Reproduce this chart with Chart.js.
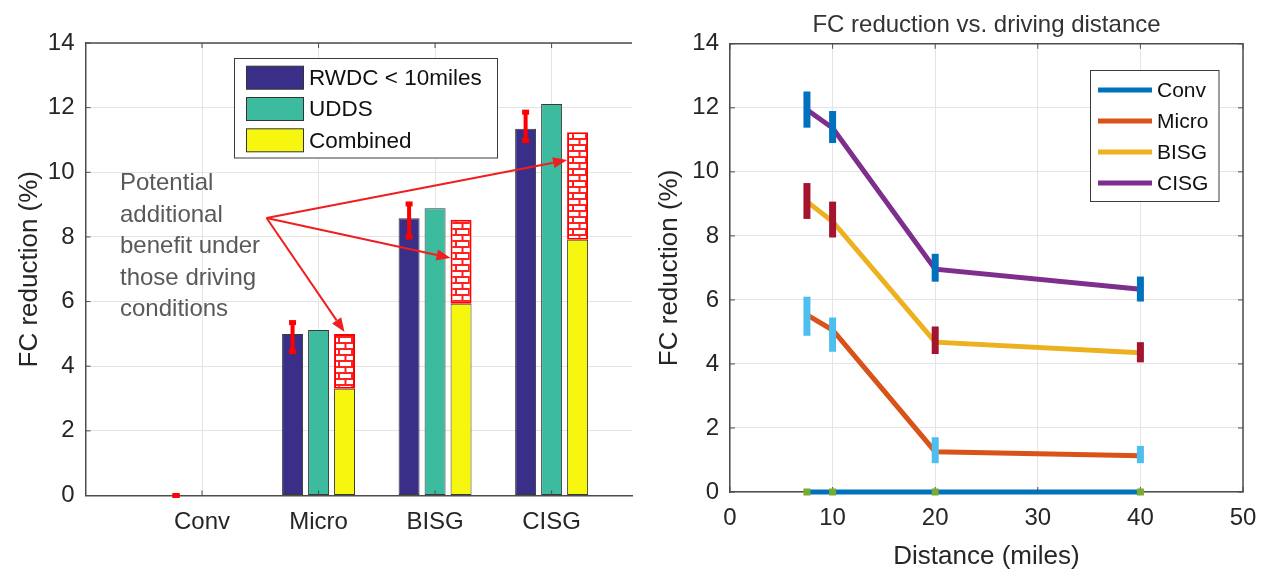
<!DOCTYPE html>
<html>
<head>
<meta charset="utf-8">
<script src="https://cdn.jsdelivr.net/npm/chart.js@4.4.1/dist/chart.umd.min.js"></script>
<style>
    html, body { margin: 0; padding: 0; background: #fff; }
    #wrap { position: relative; width: 1269px; height: 572px; }
    .panel { position: absolute; top: 0; height: 572px; }
    #left { left: 0; width: 640px; }
    #right { left: 640px; width: 629px; }
</style>
</head>
<body>
<div id="wrap">
    <div class="panel" id="left"><canvas id="barChart" width="640" height="572"></canvas></div>
    <div class="panel" id="right"><canvas id="lineChart" width="629" height="572"></canvas></div>
</div>
<script>
const FONT = '"Liberation Sans", Arial, sans-serif';
const TEXT = '#262626';
const GRID = '#e4e4e4';
const AXIS = '#4d4d4d';

// ---- left panel: FC reduction per powertrain ----
const categories = ['Conv', 'Micro', 'BISG', 'CISG'];
const barLabels = ['RWDC < 10miles', 'UDDS', 'Combined'];
const rwdc = [0, 5.0, 8.58, 11.35];
const rwdcLow = [0, 4.45, 8.0, 10.98];
const rwdcHigh = [0, 5.35, 9.02, 11.86];
const udds = [0, 5.12, 8.89, 12.11];
const combined = [0, 3.3, 5.93, 7.91];
const potential = [null, 5.0, 8.53, 11.24];
const noteLines = ['Potential', 'additional', 'benefit under', 'those driving', 'conditions'];

// ---- right panel: FC reduction vs distance ----
const distances = [7.5, 10, 20, 40];
const seriesNames = ['Conv', 'Micro', 'BISG', 'CISG'];
const convFC = [0, 0, 0, 0];
const convLow = [0, 0, 0, 0];
const convHigh = [0, 0, 0, 0];
const microFC = [5.53, 5.06, 1.26, 1.13];
const microLow = [4.88, 4.38, 0.9, 0.9];
const microHigh = [6.1, 5.45, 1.71, 1.44];
const bisgFC = [9.07, 8.45, 4.68, 4.35];
const bisgLow = [8.53, 7.95, 4.31, 4.05];
const bisgHigh = [9.65, 9.07, 5.17, 4.68];
const cisgFC = [11.94, 11.37, 6.96, 6.33];
const cisgLow = [11.38, 10.9, 6.57, 5.95];
const cisgHigh = [12.51, 11.9, 7.44, 6.73];

const barColors = ['#3a2f88', '#3dbb9e', '#f6f60f'];
const lineColors = ['#0072BD', '#D95319', '#EDB120', '#7E2F8E'];
const errColors = ['#77AC30', '#4DBEEE', '#A2142F', '#0072BD'];

function brickPattern() {
    const c = document.createElement('canvas');
    c.width = 13;
    c.height = 12;
    const g = c.getContext('2d');
    g.fillStyle = '#fff';
    g.fillRect(0, 0, 13, 12);
    g.fillStyle = '#ff2020';
    g.fillRect(0, 0, 13, 2);
    g.fillRect(0, 6, 13, 2);
    g.fillRect(0, 0, 2, 6);
    g.fillRect(6.5, 6, 2, 6);
    return g.createPattern(c, 'repeat');
}

function drawArrow(ctx, x0, y0, x1, y1) {
    const a = Math.atan2(y1 - y0, x1 - x0);
    const len = 14, half = 5.5;
    const bx = x1 - len * Math.cos(a), by = y1 - len * Math.sin(a);
    ctx.beginPath();
    ctx.moveTo(x0, y0);
    ctx.lineTo(bx, by);
    ctx.stroke();
    ctx.beginPath();
    ctx.moveTo(x1, y1);
    ctx.lineTo(bx + half * Math.sin(a), by - half * Math.cos(a));
    ctx.lineTo(bx - half * Math.sin(a), by + half * Math.cos(a));
    ctx.closePath();
    ctx.fill();
}

// annotation anchor in data units, arrow tips on the hatched bars
const noteAnchor = { x: 1.554, y: 8.585 };
const noteTargets = [
    { index: 3, y: 10.38, side: 'left' },
    { index: 2, y: 7.35, side: 'left' },
    { index: 1, y: 5.06, side: 'center' }
];

const leftOverlay = {
    id: 'leftOverlay',
    afterDatasetsDraw(chart) {
        const { ctx, chartArea } = chart;
        const xs = chart.scales.x, ys = chart.scales.y;

        // top border + inward ticks
        ctx.save();
        ctx.strokeStyle = AXIS;
        ctx.lineWidth = 1.5;
        ctx.beginPath();
        ctx.moveTo(chartArea.left, chartArea.top);
        ctx.lineTo(chartArea.right, chartArea.top);
        ctx.stroke();
        ctx.lineWidth = 1;
        xs.ticks.forEach(t => {
            const x = xs.getPixelForValue(t.value);
            ctx.beginPath();
            ctx.moveTo(x, chartArea.top);
            ctx.lineTo(x, chartArea.top + 5);
            ctx.moveTo(x, chartArea.bottom);
            ctx.lineTo(x, chartArea.bottom - 5);
            ctx.stroke();
        });
        ys.ticks.forEach(t => {
            const y = ys.getPixelForValue(t.value);
            ctx.beginPath();
            ctx.moveTo(chartArea.left, y);
            ctx.lineTo(chartArea.left + 5, y);
            ctx.stroke();
        });
        ctx.restore();

        // error bars on RWDC bars
        const meta = chart.getDatasetMeta(0);
        ctx.save();
        ctx.fillStyle = '#ff0000';
        meta.data.forEach((el, i) => {
            const yl = ys.getPixelForValue(rwdcLow[i]);
            const yh = ys.getPixelForValue(rwdcHigh[i]);
            ctx.fillRect(el.x - 2, yh, 4, yl - yh);
            ctx.fillRect(el.x - 3.5, yh - 2.5, 7, 5);
            ctx.fillRect(el.x - 3.5, yl - 2.5, 7, 5);
        });
        ctx.restore();

        // arrows
        const hatch = chart.getDatasetMeta(3);
        const ox = xs.getPixelForValue(noteAnchor.x);
        const oy = ys.getPixelForValue(noteAnchor.y);
        ctx.save();
        ctx.strokeStyle = '#f01e1e';
        ctx.fillStyle = '#f01e1e';
        ctx.lineWidth = 2;
        noteTargets.forEach(t => {
            const el = hatch.data[t.index];
            const tx = t.side === 'left' ? el.x - el.width / 2 : el.x;
            drawArrow(ctx, ox, oy, tx, ys.getPixelForValue(t.y));
        });
        ctx.restore();

        // annotation text
        ctx.save();
        ctx.fillStyle = '#595959';
        ctx.font = '24px ' + FONT;
        ctx.textBaseline = 'alphabetic';
        ctx.textAlign = 'left';
        noteLines.forEach((line, i) => {
            ctx.fillText(line, 120, 190 + i * 31.5);
        });
        ctx.restore();

        // legend
        ctx.save();
        ctx.fillStyle = '#fff';
        ctx.fillRect(234, 58.5, 263, 99.5);
        ctx.strokeStyle = '#3c3c3c';
        ctx.lineWidth = 1;
        ctx.strokeRect(234.5, 58.5, 263, 99.5);
        ctx.font = '22.5px ' + FONT;
        ctx.textBaseline = 'middle';
        barLabels.forEach((lab, i) => {
            const cy = 77.7 + i * 31.3;
            ctx.fillStyle = barColors[i];
            ctx.fillRect(246, cy - 11.5, 57, 23);
            ctx.strokeStyle = '#333';
            ctx.strokeRect(246.5, cy - 11.5, 57, 23);
            ctx.fillStyle = '#111';
            ctx.fillText(lab, 309, cy + 1);
        });
        ctx.restore();
    }
};

const rightSeries = [
    { fc: convFC, low: convLow, high: convHigh },
    { fc: microFC, low: microLow, high: microHigh },
    { fc: bisgFC, low: bisgLow, high: bisgHigh },
    { fc: cisgFC, low: cisgLow, high: cisgHigh }
];

const rightOverlay = {
    id: 'rightOverlay',
    afterDatasetsDraw(chart) {
        const { ctx, chartArea } = chart;
        const xs = chart.scales.x, ys = chart.scales.y;

        // box top + right, inward ticks
        ctx.save();
        ctx.strokeStyle = AXIS;
        ctx.lineWidth = 1.5;
        ctx.beginPath();
        ctx.moveTo(chartArea.left, chartArea.top);
        ctx.lineTo(chartArea.right, chartArea.top);
        ctx.lineTo(chartArea.right, chartArea.bottom);
        ctx.stroke();
        ctx.lineWidth = 1;
        ys.ticks.forEach(t => {
            const y = ys.getPixelForValue(t.value);
            ctx.beginPath();
            ctx.moveTo(chartArea.right, y);
            ctx.lineTo(chartArea.right - 5, y);
            ctx.moveTo(chartArea.left, y);
            ctx.lineTo(chartArea.left + 5, y);
            ctx.stroke();
        });
        xs.ticks.forEach(t => {
            const x = xs.getPixelForValue(t.value);
            ctx.beginPath();
            ctx.moveTo(x, chartArea.top);
            ctx.lineTo(x, chartArea.top + 5);
            ctx.moveTo(x, chartArea.bottom);
            ctx.lineTo(x, chartArea.bottom - 5);
            ctx.stroke();
        });
        ctx.restore();

        // error bars
        ctx.save();
        rightSeries.forEach((s, k) => {
            ctx.fillStyle = errColors[k];
            distances.forEach((d, i) => {
                const x = xs.getPixelForValue(d);
                let yh = ys.getPixelForValue(s.high[i]);
                let yl = ys.getPixelForValue(s.low[i]);
                if (yl - yh < 7) {
                    const c = (yl + yh) / 2;
                    yh = c - 3.5;
                    yl = c + 3.5;
                }
                ctx.fillRect(x - 3.5, yh, 7, yl - yh);
            });
        });
        ctx.restore();

        // legend
        ctx.save();
        ctx.fillStyle = '#fff';
        ctx.fillRect(450.5, 70.5, 128.5, 131);
        ctx.strokeStyle = '#3c3c3c';
        ctx.lineWidth = 1;
        ctx.strokeRect(450.5, 70.5, 128.5, 131);
        ctx.font = '21px ' + FONT;
        ctx.textBaseline = 'middle';
        seriesNames.forEach((name, i) => {
            const cy = 90 + i * 31;
            ctx.strokeStyle = lineColors[i];
            ctx.lineWidth = 5;
            ctx.beginPath();
            ctx.moveTo(458, cy);
            ctx.lineTo(512, cy);
            ctx.stroke();
            ctx.fillStyle = '#111';
            ctx.fillText(name, 517, cy + 1);
        });
        ctx.restore();
    }
};

function initBarChart() {
    const ctx = document.getElementById('barChart').getContext('2d');
    const brick = brickPattern();
    const toXY = (arr) => arr.map((v, i) => ({ x: i + 1, y: v }));

    new Chart(ctx, {
        type: 'bar',
        data: {
            datasets: [
                { label: barLabels[0], data: toXY(rwdc), backgroundColor: barColors[0], stack: 'a' },
                { label: barLabels[1], data: toXY(udds), backgroundColor: barColors[1], stack: 'b' },
                { label: barLabels[2], data: toXY(combined), backgroundColor: barColors[2], stack: 'c' },
                {
                    label: 'Potential',
                    data: potential.map((v, i) => ({ x: i + 1, y: v === null ? null : v - combined[i] })),
                    backgroundColor: brick,
                    borderColor: '#ff0000',
                    borderWidth: 2,
                    stack: 'c'
                }
            ]
        },
        options: {
            responsive: false,
            animation: false,
            layout: { padding: { top: 43, right: 8, left: 0, bottom: 0 } },
            datasets: {
                bar: {
                    categoryPercentage: 0.669,
                    barPercentage: 0.807,
                    borderColor: '#3a3a3a',
                    borderWidth: 1,
                    borderSkipped: false
                }
            },
            plugins: {
                legend: { display: false },
                tooltip: { enabled: false }
            },
            scales: {
                x: {
                    type: 'linear',
                    min: 0,
                    max: 4.69,
                    offset: false,
                    afterBuildTicks: (s) => {
                        s.ticks = categories.map((_, i) => ({ value: i + 1 }));
                    },
                    ticks: {
                        callback: (v) => categories[Math.round(v) - 1] || '',
                        font: { family: FONT, size: 24 },
                        color: TEXT,
                        padding: 12,
                        maxRotation: 0,
                        autoSkip: false
                    },
                    grid: { color: GRID, drawTicks: false, offset: false },
                    border: { color: AXIS, width: 1.5 },
                    afterFit: (s) => { s.height = 76.5; }
                },
                y: {
                    min: 0,
                    max: 14,
                    ticks: {
                        stepSize: 2,
                        font: { family: FONT, size: 24 },
                        color: TEXT,
                        padding: 11
                    },
                    grid: { color: GRID, drawTicks: false },
                    border: { color: AXIS, width: 1.5 },
                    title: {
                        display: true,
                        text: 'FC reduction (%)',
                        font: { family: FONT, size: 26 },
                        color: TEXT,
                        padding: { top: 14, bottom: 0 }
                    },
                    afterFit: (s) => { s.width = 85.5; }
                }
            }
        },
        plugins: [leftOverlay]
    });
}

function initLineChart() {
    const ctx = document.getElementById('lineChart').getContext('2d');

    new Chart(ctx, {
        type: 'line',
        data: {
            datasets: rightSeries.map((s, k) => ({
                label: seriesNames[k],
                data: s.fc.map((v, i) => ({ x: distances[i], y: v })),
                borderColor: lineColors[k],
                backgroundColor: lineColors[k],
                borderWidth: 5,
                pointRadius: 0,
                tension: 0,
                fill: false,
                clip: 10
            }))
        },
        options: {
            responsive: false,
            animation: false,
            layout: { padding: { top: 0, right: 26, left: 0, bottom: 0 } },
            plugins: {
                legend: { display: false },
                tooltip: { enabled: false },
                title: {
                    display: true,
                    text: 'FC reduction vs. driving distance',
                    font: { family: FONT, size: 24, weight: 'normal' },
                    color: '#333',
                    fullSize: false,
                    padding: { top: 11, bottom: 4 }
                }
            },
            scales: {
                x: {
                    type: 'linear',
                    min: 0,
                    max: 50,
                    ticks: {
                        stepSize: 10,
                        font: { family: FONT, size: 24 },
                        color: TEXT,
                        padding: 12,
                        maxRotation: 0
                    },
                    grid: { color: GRID, drawTicks: false },
                    border: { color: AXIS, width: 1.5 },
                    title: {
                        display: true,
                        text: 'Distance (miles)',
                        font: { family: FONT, size: 26 },
                        color: TEXT,
                        padding: { top: 0, bottom: 0 }
                    },
                    afterFit: (s) => { s.height = 80; }
                },
                y: {
                    min: 0,
                    max: 14,
                    ticks: {
                        stepSize: 2,
                        font: { family: FONT, size: 24 },
                        color: TEXT,
                        padding: 11
                    },
                    grid: { color: GRID, drawTicks: false },
                    border: { color: AXIS, width: 1.5 },
                    title: {
                        display: true,
                        text: 'FC reduction (%)',
                        font: { family: FONT, size: 26 },
                        color: TEXT,
                        padding: { top: 14, bottom: 0 }
                    },
                    afterFit: (s) => { s.width = 90; }
                }
            }
        },
        plugins: [rightOverlay]
    });
}

initBarChart();
initLineChart();
</script>
</body>
</html>
